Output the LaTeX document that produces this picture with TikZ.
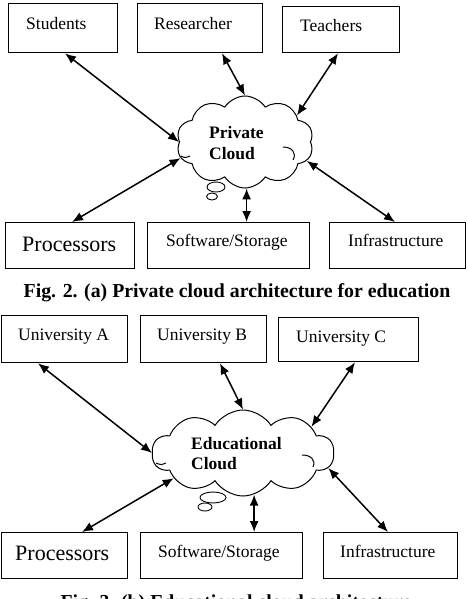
\documentclass[tikz,border=0pt]{standalone}
\usepackage{fontspec}
\setmainfont{Liberation Serif}
\usetikzlibrary{shapes.symbols,arrows.meta,calc}
\begin{document}
\begin{tikzpicture}[x=1pt,y=-1pt,
 box/.style={draw, line width=1.3pt, rectangle, inner sep=0pt, anchor=north west},
 txt/.style={anchor=base west, inner sep=0pt, font=\fontsize{17.5}{20}\selectfont},
 bigtxt/.style={anchor=base west, inner sep=0pt, font=\fontsize{22}{26}\selectfont},
 ctxt/.style={anchor=base west, inner sep=0pt, font=\bfseries\fontsize{17.5}{20}\selectfont},
 captiontxt/.style={anchor=base, inner sep=0pt, font=\bfseries\fontsize{19.8}{23}\selectfont},
 cloudshape/.style={draw, cloud, cloud puffs=10, cloud puff arc=115, line width=1pt, inner sep=0pt},
 curl/.style={line width=1pt},
 biarrow/.style={{Latex[length=11pt,width=9pt]}-{Latex[length=11pt,width=9pt]}, line width=1.5pt},
]
\path[use as bounding box, clip] (0,0) rectangle (467,599);

% ---------- (a) ----------
\node[box, minimum width=109pt, minimum height=49pt] (stu) at (8,3) {};
\node[box, minimum width=125pt, minimum height=49pt] (res) at (137,3) {};
\node[box, minimum width=117pt, minimum height=46pt] (tea) at (282,6) {};
\node[box, minimum width=129pt, minimum height=46pt] (pro) at (5,222) {};
\node[box, minimum width=162pt, minimum height=46pt] (sws) at (147,222) {};
\node[box, minimum width=136pt, minimum height=46pt] (inf) at (329,222) {};

\node[txt] (tstu) at (26,30) {Students};
\node[txt] (tres) at (154,30) {Researcher};
\node[txt] (ttea) at (300,32) {Teachers};
\node[bigtxt] (tpro) at (22,251) {Processors};
\node[txt] (tsws) at (166,246) {Software/Storage};
\node[txt] (tinf) at (348,246) {Infrastructure};

\node[cloudshape, minimum width=137pt, minimum height=92pt] (pc) at (245,142) {};
\node[ctxt] (tpc1) at (209,138) {Private};
\node[ctxt] (tpc2) at (209,159) {Cloud};
\draw[curl] (283,147) .. controls (292,147) and (297,153) .. (293,160);
\draw[curl] (181,156) .. controls (185,158) .. (190,156);
\draw[line width=0.9pt] (216,187) ellipse [x radius=9, y radius=5];
\draw[line width=0.9pt] (212,196.5) ellipse [x radius=5.5, y radius=3.5];

\draw[biarrow] ([xshift=57pt]stu.south west) -- (pc.180);
\draw[biarrow] ([xshift=85pt]res.south west) -- (pc.90);
\draw[biarrow] ([xshift=56pt]tea.south west) -- (pc.27);
\draw[biarrow] ([xshift=67pt]pro.north west) -- (pc.194);
\draw[biarrow] (pc.272) -- (pc.272 |- sws.north);
\draw[biarrow] ([xshift=66pt]inf.north west) -- (pc.343);

\node[captiontxt] (capa) at (237,297) {Fig. 2. (a) Private cloud architecture for education};

% ---------- (b) ----------
\node[box, minimum width=126pt, minimum height=47pt] (ua) at (1,315) {};
\node[box, minimum width=126pt, minimum height=47pt] (ub) at (140,315) {};
\node[box, minimum width=140pt, minimum height=44pt] (uc) at (278,317) {};
\node[box, minimum width=126pt, minimum height=46pt] (pro2) at (1,532) {};
\node[box, minimum width=162pt, minimum height=46pt] (sws2) at (140,532) {};
\node[box, minimum width=134pt, minimum height=46pt] (inf2) at (323,532) {};

\node[txt] (tua) at (18,340) {University A};
\node[txt] (tub) at (157,340) {University B};
\node[txt] (tuc) at (296,342) {University C};
\node[bigtxt] (tpro2) at (15,560) {Processors};
\node[txt] (tsws2) at (158,557) {Software/Storage};
\node[txt] (tinf2) at (340,557) {Infrastructure};

\node[cloudshape, minimum width=182pt, minimum height=86pt] (ec) at (243,453) {};
\node[ctxt] (tec1) at (191,449) {Educational};
\node[ctxt] (tec2) at (191,469) {Cloud};
\draw[curl] (302,455) .. controls (311,455) and (316,460) .. (313,467);
\draw[curl] (156,463) .. controls (161,465) .. (166,463);
\draw[line width=0.9pt] (213,497.5) ellipse [x radius=13, y radius=5.5];
\draw[line width=0.9pt] (205,507) ellipse [x radius=7, y radius=4];

\draw[biarrow] ([xshift=37pt]ua.south west) -- (ec.180);
\draw[biarrow] ([xshift=80pt]ub.south west) -- (ec.90);
\draw[biarrow] ([xshift=77pt]uc.south west) -- (ec.21);
\draw[biarrow] ([xshift=81pt]pro2.north west) -- (ec.200);
\draw[biarrow] (ec.285) -- (ec.285 |- sws2.north);
\draw[biarrow] ([xshift=65pt]inf2.north west) -- (ec.350);

\node[captiontxt] (capb) at (236,608) {Fig. 3. (b) Educational cloud architecture};
\end{tikzpicture}
\end{document}
